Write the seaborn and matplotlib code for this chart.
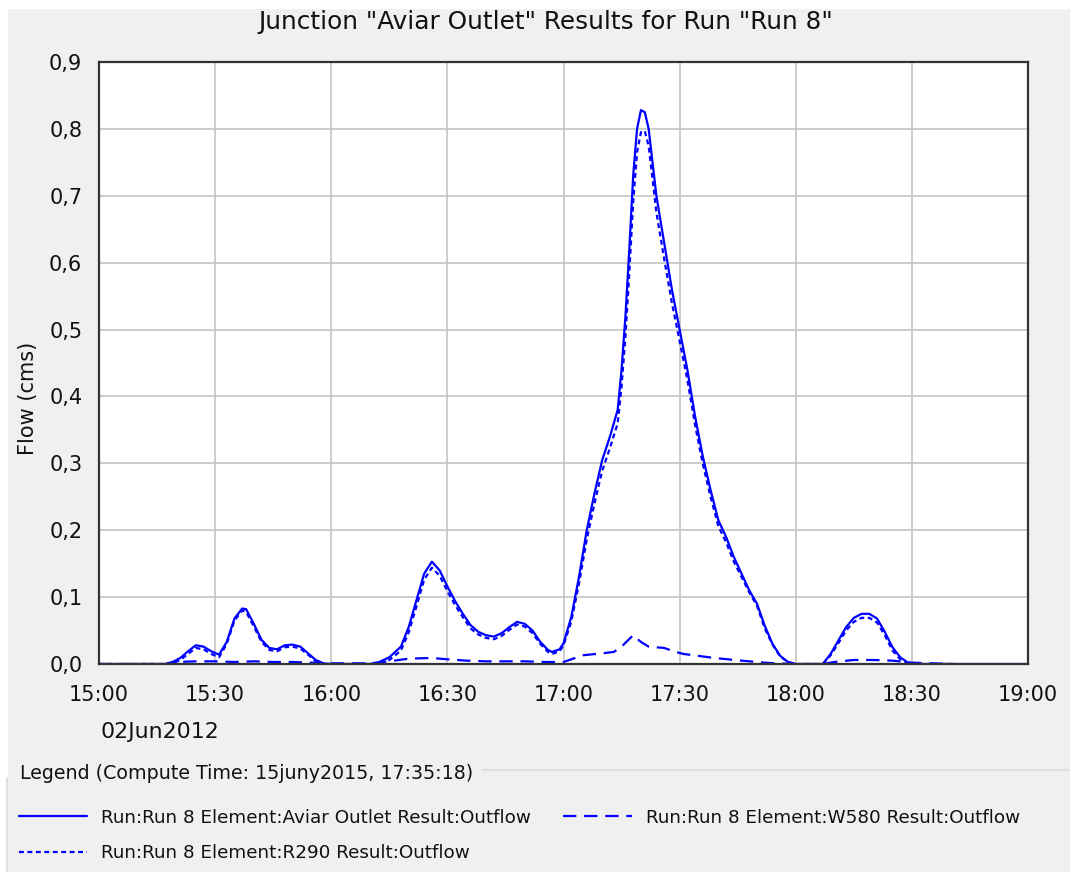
import matplotlib
matplotlib.use("Agg")
import matplotlib.pyplot as plt
import matplotlib.dates as mdates
from matplotlib.patches import Rectangle
import pandas as pd
import seaborn as sns

# minutes after 15:00 on 02Jun2012
aviar_min = [0, 17, 19, 21, 23, 25, 27, 29, 31, 33, 35, 37, 38, 40, 42, 44, 46, 48, 50, 52,
             54, 56, 58, 60, 70, 72, 75, 78, 80, 82, 84, 86, 88, 90, 92, 94, 96, 98, 100, 102,
             104, 106, 108, 110, 112, 114, 116, 117, 119, 120, 122, 124, 126, 128, 130, 132,
             134, 135, 136, 137, 138, 139, 140, 141, 142, 143, 144, 146, 148, 150, 152, 154,
             156, 158, 160, 162, 164, 166, 168, 170, 172, 174, 176, 178, 180, 187, 189, 191,
             193, 195, 197, 199, 201, 203, 205, 207, 209, 211, 240]
aviar_flow = [0, 0, 0.003, 0.009, 0.019, 0.028, 0.026, 0.019, 0.014, 0.033, 0.068, 0.083, 0.082,
              0.06, 0.036, 0.024, 0.022, 0.028, 0.029, 0.026, 0.016, 0.006, 0.001, 0, 0, 0.002,
              0.01, 0.026, 0.055, 0.095, 0.135, 0.153, 0.14, 0.116, 0.094, 0.075, 0.058, 0.048,
              0.043, 0.041, 0.046, 0.055, 0.063, 0.06, 0.05, 0.033, 0.021, 0.018, 0.022, 0.031,
              0.07, 0.13, 0.2, 0.255, 0.305, 0.34, 0.38, 0.44, 0.52, 0.62, 0.73, 0.80, 0.828,
              0.825, 0.80, 0.75, 0.70, 0.63, 0.56, 0.50, 0.44, 0.37, 0.31, 0.26, 0.215, 0.19,
              0.16, 0.135, 0.11, 0.09, 0.057, 0.03, 0.012, 0.003, 0, 0, 0.015, 0.035, 0.055,
              0.069, 0.075, 0.075, 0.068, 0.048, 0.025, 0.01, 0.002, 0, 0]

w580_min = [0, 18, 20, 25, 30, 35, 40, 45, 50, 55, 60, 70, 75, 80, 86, 90, 95, 100, 105, 110,
            115, 120, 123, 125, 130, 133, 135, 138, 140, 142, 146, 149, 151, 155, 159, 166,
            172, 175, 180, 187, 190, 195, 200, 205, 210, 215, 221]
w580_flow = [0, 0, 0.003, 0.004, 0.004, 0.003, 0.004, 0.003, 0.003, 0.002, 0.001, 0.001, 0.004,
             0.008, 0.009, 0.007, 0.005, 0.004, 0.004, 0.004, 0.003, 0.003, 0.009, 0.013, 0.016,
             0.018, 0.026, 0.043, 0.033, 0.026, 0.024, 0.018, 0.015, 0.012, 0.009, 0.005,
             0.002, 0.001, 0, 0, 0.003, 0.006, 0.006, 0.005, 0.002, 0.001, 0]

r290_min = [0, 17, 19, 21, 23, 25, 27, 29, 31, 33, 35, 37, 38, 40, 42, 44, 46, 48, 50, 52,
            54, 56, 58, 60, 70, 72, 75, 78, 80, 82, 84, 86, 88, 90, 92, 94, 96, 98, 100, 102,
            104, 106, 108, 110, 112, 114, 116, 117, 119, 120, 122, 124, 126, 128, 130, 132,
            134, 135, 136, 137, 138, 139, 140, 141, 142, 143, 144, 146, 148, 150, 152, 154,
            156, 158, 160, 162, 164, 166, 168, 170, 172, 174, 176, 178, 180, 187, 189, 191,
            193, 195, 197, 199, 201, 203, 205, 207, 209, 211, 221]
r290_flow = [0, 0, 0.001, 0.006, 0.015, 0.024, 0.022, 0.015, 0.010, 0.030, 0.065, 0.080, 0.078,
             0.056, 0.033, 0.021, 0.019, 0.025, 0.026, 0.023, 0.014, 0.004, 0, 0, 0, 0.001,
             0.006, 0.020, 0.047, 0.086, 0.126, 0.144, 0.132, 0.109, 0.088, 0.070, 0.053, 0.044,
             0.039, 0.037, 0.042, 0.051, 0.059, 0.056, 0.046, 0.030, 0.018, 0.015, 0.019, 0.028,
             0.063, 0.12, 0.186, 0.240, 0.289, 0.323, 0.36, 0.415, 0.49, 0.585, 0.69, 0.765,
             0.795, 0.797, 0.774, 0.725, 0.675, 0.606, 0.54, 0.483, 0.425, 0.357, 0.299, 0.25,
             0.206, 0.182, 0.153, 0.13, 0.107, 0.087, 0.053, 0.029, 0.011, 0.003, 0, 0, 0.013,
             0.031, 0.05, 0.063, 0.069, 0.069, 0.062, 0.043, 0.02, 0.007, 0.001, 0, 0]

y_ticks = [0.0, 0.1, 0.2, 0.3, 0.4, 0.5, 0.6, 0.7, 0.8, 0.9]
y_tick_labels = ["0,0", "0,1", "0,2", "0,3", "0,4", "0,5", "0,6", "0,7", "0,8", "0,9"]

labels = ["Run:Run 8 Element:Aviar Outlet Result:Outflow",
          "Run:Run 8 Element:W580 Result:Outflow",
          "Run:Run 8 Element:R290 Result:Outflow"]

start = pd.Timestamp("2012-06-02 15:00")


def to_time(mins):
    return start + pd.to_timedelta(mins, unit="m")


sns.set_theme(style="whitegrid")
plt.rcParams["font.family"] = ["DejaVu Sans"]

W, H = 1070, 872
fig = plt.figure(figsize=(W / 100, H / 100), dpi=100, facecolor="#f0f0f0")
# thin white frame strips like the screenshot
fig.patches.append(Rectangle((0, 0), 7 / W, 1, transform=fig.transFigure, color="white", zorder=0))
fig.patches.append(Rectangle((0, 1 - 8 / H), 1, 8 / H, transform=fig.transFigure, color="white", zorder=0))

ax = fig.add_axes([99 / W, 1 - 664 / H, (1028 - 99) / W, (664 - 62) / H])
ax.set_facecolor("white")

blue = "#0000ff"
sns.lineplot(x=to_time(aviar_min), y=aviar_flow, ax=ax, color=blue, lw=1.6, label=labels[0])
sns.lineplot(x=to_time(w580_min), y=w580_flow, ax=ax, color=blue, lw=1.6,
             linestyle=(0, (6, 3.5)), label=labels[1])
sns.lineplot(x=to_time(r290_min), y=r290_flow, ax=ax, color=blue, lw=1.6,
             linestyle=(0, (2.2, 1.6)), label=labels[2])
ax.get_legend().remove()

ax.set_xlim(start, start + pd.Timedelta(hours=4))
ax.set_ylim(0, 0.9)
ax.xaxis.set_major_locator(mdates.MinuteLocator(byminute=[0, 30]))
ax.xaxis.set_major_formatter(mdates.DateFormatter("%H:%M"))
ax.set_yticks(y_ticks)
ax.set_yticklabels(y_tick_labels)
ax.set_xlabel("")
ax.set_ylabel("")

ax.grid(True, color="#c8c8c8", lw=1.3)
for s in ax.spines.values():
    s.set_color("#333333")
    s.set_linewidth(1.6)
ax.tick_params(axis="both", length=7, width=1.4, color="#222222", labelsize=15,
               labelcolor="#111111", direction="out", pad=5)
ax.tick_params(axis="x", pad=8)

fig.text(546 / W, 1 - 22 / H, 'Junction "Aviar Outlet" Results for Run "Run 8"',
         ha="center", va="center", fontsize=17.8, color="#111111")
fig.text(28 / W, 1 - 398 / H, "Flow (cms)", rotation=90, ha="center", va="center",
         fontsize=15, color="#111111")
fig.text(100 / W, 1 - 732 / H, "02Jun2012", ha="left", va="center", fontsize=15.8,
         color="#111111")

# legend group box
fig.text(20 / W, 1 - 773 / H, "Legend (Compute Time: 15juny2015, 17:35:18)",
         ha="left", va="center", fontsize=13.7, color="#111111")
fig.add_artist(plt.Line2D([482 / W, 1], [1 - 770 / H] * 2, transform=fig.transFigure,
                          color="#dcdcdc", lw=1.2))
fig.add_artist(plt.Line2D([7 / W, 7 / W], [0, 1 - 778 / H], transform=fig.transFigure,
                          color="#dcdcdc", lw=1.2))

h = ax.get_lines()
leg = fig.legend([h[0], h[2], h[1]], [labels[0], labels[2], labels[1]], ncol=2,
                 loc="upper left", bbox_to_anchor=(4 / W, 1 - 794 / H), frameon=False,
                 fontsize=13.2, handlelength=3.75, handletextpad=0.75, columnspacing=1.75,
                 labelspacing=0.95, borderpad=0.3)
for t in leg.get_texts():
    t.set_color("#111111")

fig.savefig("out.png", dpi=100, facecolor=fig.get_facecolor())
